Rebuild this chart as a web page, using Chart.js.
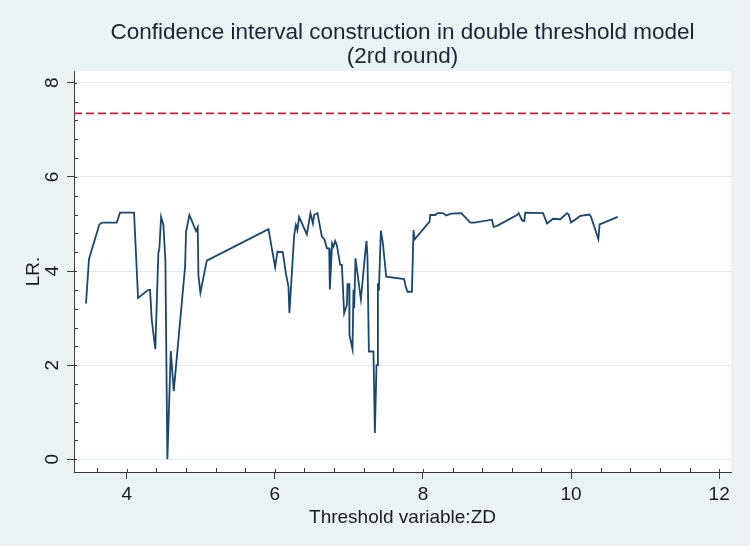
<!DOCTYPE html>
<html>
<head>
<meta charset="utf-8">
<script src="https://cdn.jsdelivr.net/npm/chart.js@4.4.1/dist/chart.umd.min.js"></script>
<style>
html,body{margin:0;padding:0;background:#EAF2F3;}
#wrap{width:750px;height:546px;position:relative;}
</style>
</head>
<body>
<div id="wrap"><canvas id="c" width="750" height="546"></canvas></div>
<script>
// ---- data ----
const thresholdZD = [
  3.45, 3.49, 3.63, 3.666, 3.865, 3.909, 4.099, 4.153, 4.292, 4.315,
  4.338, 4.386, 4.427, 4.441, 4.464, 4.495, 4.522, 4.549, 4.595, 4.635,
  4.788, 4.801, 4.846, 4.936, 4.959, 4.968, 4.995, 5.081, 5.914, 6.004,
  6.035, 6.108, 6.149, 6.184, 6.197, 6.261, 6.284, 6.305, 6.328, 6.432,
  6.481, 6.514, 6.531, 6.576, 6.635, 6.67, 6.703, 6.734, 6.743, 6.774,
  6.792, 6.815, 6.838, 6.882, 6.905, 6.936, 6.973, 6.981, 7.004, 7.008,
  7.049, 7.062, 7.072, 7.089, 7.162, 7.22, 7.238, 7.251, 7.27, 7.332,
  7.351, 7.373, 7.386, 7.392, 7.405, 7.432, 7.459, 7.504, 7.747, 7.765,
  7.792, 7.851, 7.873, 7.886, 8.089, 8.099, 8.166, 8.197, 8.27, 8.315,
  8.378, 8.518, 8.639, 8.693, 8.932, 8.954, 9.0, 9.27, 9.292, 9.338,
  9.369, 9.382, 9.622, 9.676, 9.757, 9.855, 9.946, 9.968, 10.0, 10.126,
  10.251, 10.27, 10.369, 10.386, 10.63
];
const lrValues = [
  3.31, 4.25, 4.99, 5.03, 5.03, 5.24, 5.24, 3.43, 3.60, 3.60,
  2.96, 2.34, 4.38, 4.48, 5.15, 4.98, 4.23, 0.00, 2.30, 1.45,
  4.09, 4.83, 5.19, 4.85, 4.93, 3.91, 3.54, 4.22, 4.89, 4.08,
  4.41, 4.40, 3.95, 3.67, 3.11, 4.76, 4.98, 4.87, 5.15, 4.78,
  5.23, 5.01, 5.19, 5.23, 4.73, 4.67, 4.48, 4.48, 3.61, 4.59,
  4.52, 4.64, 4.55, 4.13, 4.13, 3.10, 3.28, 3.72, 3.72, 2.64,
  2.34, 3.60, 3.21, 4.27, 3.40, 4.38, 4.64, 4.30, 2.29, 2.29,
  0.56, 2.00, 2.00, 3.74, 3.58, 4.86, 4.59, 3.88, 3.83, 3.68,
  3.56, 3.56, 4.87, 4.67, 5.05, 5.19, 5.19, 5.23, 5.23, 5.18,
  5.22, 5.23, 5.03, 5.03, 5.09, 4.94, 4.96, 5.19, 5.23, 5.08,
  5.06, 5.24, 5.23, 5.01, 5.11, 5.10, 5.23, 5.20, 5.03, 5.17,
  5.20, 5.15, 4.68, 4.99, 5.15
];
const criticalValue = 7.35;
const xTicks = [4, 6, 8, 10, 12];
const yTicks = [0, 2, 4, 6, 8];
const xRange = [3.288, 12.16];
const yRange = [-0.27, 8.25];
const minorStep = 0.4;
const titleLines = ['Confidence interval construction in double threshold model', '(2rd round)'];
const xTitle = 'Threshold variable:ZD';
const yTitle = 'LR.';

// ---- styles ----
const FONT = '"Liberation Sans", Arial, Helvetica, sans-serif';
const AXIS_COLOR = '#3a3a3a';
const TEXT_COLOR = '#1b1b1b';
const GRID_COLOR = '#E1ECF0';

const lineData = thresholdZD.map((x, i) => ({x: x, y: lrValues[i]}));
const critData = xRange.map(x => ({x: x, y: criticalValue}));

const bgPlugin = {
  id: 'bg',
  beforeDraw(chart) {
    const {ctx, chartArea: a} = chart;
    ctx.save();
    ctx.fillStyle = '#EAF2F3';
    ctx.fillRect(0, 0, chart.width, chart.height);
    ctx.fillStyle = '#FFFFFF';
    ctx.fillRect(a.left, a.top, a.right - a.left, a.bottom - a.top);
    ctx.restore();
  }
};

const decoPlugin = {
  id: 'deco',
  afterDraw(chart) {
    const {ctx, chartArea: a, scales} = chart;
    const xs = scales.x, ys = scales.y;
    ctx.save();
    ctx.strokeStyle = AXIS_COLOR;
    ctx.lineWidth = 1;
    ctx.beginPath();
    // x minor ticks (inside) and inner stub of major ticks
    for (let k = Math.ceil(xRange[0] / minorStep); k * minorStep <= xRange[1] + 1e-9; k++) {
      const v = k * minorStep;
      const px = Math.round(xs.getPixelForValue(v)) + 0.5;
      const major = (k % 5 === 0);
      ctx.moveTo(px, a.bottom);
      ctx.lineTo(px, a.bottom - (major ? 3 : 4));
    }
    for (let k = Math.ceil(yRange[0] / minorStep); k * minorStep <= yRange[1] + 1e-9; k++) {
      const v = k * minorStep;
      const py = Math.round(ys.getPixelForValue(v)) + 0.5;
      const major = (k % 5 === 0);
      ctx.moveTo(a.left, py);
      ctx.lineTo(a.left + (major ? 3 : 4), py);
    }
    ctx.stroke();
    // title
    ctx.fillStyle = '#1c2538';
    ctx.font = '22.5px ' + FONT;
    ctx.textAlign = 'center';
    ctx.textBaseline = 'middle';
    const cx = (a.left + a.right) / 2;
    ctx.fillText(titleLines[0], cx, 33);
    ctx.fillText(titleLines[1], cx, 57);
    ctx.restore();
  }
};

new Chart(document.getElementById('c'), {
  type: 'scatter',
  data: {
    datasets: [
      {
        label: 'LR',
        data: lineData,
        showLine: true,
        borderColor: '#1A476F',
        backgroundColor: '#1A476F',
        borderWidth: 1.8,
        pointRadius: 0,
        tension: 0
      },
      {
        label: 'critical value',
        data: critData,
        showLine: true,
        borderColor: '#C4213B',
        backgroundColor: '#C4213B',
        borderWidth: 1.8,
        borderDash: [8, 4],
        pointRadius: 0
      }
    ]
  },
  options: {
    responsive: false,
    animation: false,
    devicePixelRatio: 1,
    layout: {padding: {top: 71, right: 19, left: 0, bottom: 0}},
    plugins: {
      legend: {display: false},
      tooltip: {enabled: false},
      title: {display: false}
    },
    scales: {
      x: {
        type: 'linear',
        min: xRange[0],
        max: xRange[1],
        afterBuildTicks(scale) { scale.ticks = xTicks.map(v => ({value: v})); },
        afterFit(scale) { scale.height = 74; },
        grid: {display: true, drawOnChartArea: false, tickLength: 7, tickColor: AXIS_COLOR, tickWidth: 1},
        border: {display: true, color: AXIS_COLOR, width: 1},
        ticks: {font: {family: FONT, size: 19}, color: TEXT_COLOR, padding: 4, maxRotation: 0, minRotation: 0},
        title: {display: true, text: xTitle, font: {family: FONT, size: 19}, color: TEXT_COLOR, padding: {top: 0, bottom: 17}}
      },
      y: {
        type: 'linear',
        min: yRange[0],
        max: yRange[1],
        afterBuildTicks(scale) { scale.ticks = yTicks.map(v => ({value: v})); },
        afterFit(scale) { scale.width = 74; },
        grid: {display: true, drawOnChartArea: true, color: GRID_COLOR, tickLength: 7, tickColor: AXIS_COLOR, tickWidth: 1},
        border: {display: true, color: AXIS_COLOR, width: 1},
        ticks: {font: {family: FONT, size: 19}, color: TEXT_COLOR, padding: 9, minRotation: 90, maxRotation: 90, crossAlign: 'center'},
        title: {display: true, text: yTitle, font: {family: FONT, size: 19}, color: TEXT_COLOR, padding: {top: 22, bottom: 0}}
      }
    }
  },
  plugins: [bgPlugin, decoPlugin]
});
</script>
</body>
</html>
